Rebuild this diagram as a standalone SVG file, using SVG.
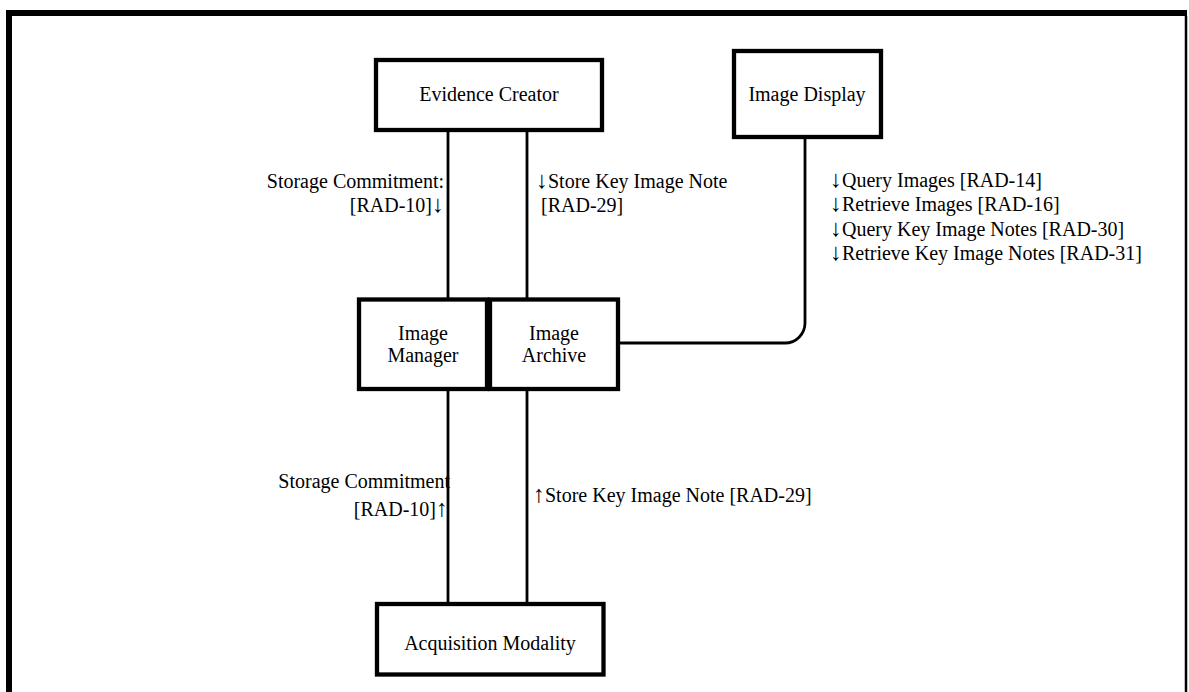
<svg xmlns="http://www.w3.org/2000/svg" width="1189" height="692" viewBox="0 0 1189 692">
<style>
.box{fill:#fff;stroke:#000;stroke-width:4.3}
.c{text-anchor:middle}
.r{text-anchor:end}
.ln{fill:none;stroke:#000;stroke-width:2.8}
.a{font-size:24px}
</style>
<rect width="1189" height="692" fill="#fff"/>
<g id="frame">
<path d="M9 692 V13 H1187" fill="none" stroke="#000" stroke-width="6"/>
<path d="M1186 16 V692" fill="none" stroke="#000" stroke-width="2.5"/>
</g>
<g id="connectors">
<path class="ln" d="M448 132 V298"/>
<path class="ln" d="M527 132 V298"/>
<path class="ln" d="M448 390 V603"/>
<path class="ln" d="M527 390 V603"/>
<path class="ln" d="M805 138 V323 A20 20 0 0 1 785 343 H619"/>
</g>
<g font-family="'Liberation Serif', 'Times New Roman', serif" font-size="20" fill="#000">
<g id="labels">
<text class="r" x="444" y="188">Storage Commitment:</text>
<text class="r" x="444" y="212">[RAD-10]<tspan class="a">↓</tspan></text>
<text x="536" y="188"><tspan class="a">↓</tspan>Store Key Image Note</text>
<text x="541" y="212">[RAD-29]</text>
<text x="830" y="187"><tspan class="a">↓</tspan>Query Images [RAD-14]</text>
<text x="830" y="211"><tspan class="a">↓</tspan>Retrieve Images [RAD-16]</text>
<text x="830" y="236"><tspan class="a">↓</tspan>Query Key Image Notes [RAD-30]</text>
<text x="830" y="260"><tspan class="a">↓</tspan>Retrieve Key Image Notes [RAD-31]</text>
<text class="r" x="450" y="488">Storage Commitment</text>
<text class="r" x="448" y="516">[RAD-10]<tspan class="a">↑</tspan></text>
<text x="533" y="502"><tspan class="a">↑</tspan>Store Key Image Note [RAD-29]</text>
</g>
<g id="evidence-creator">
<rect class="box" x="376" y="60" width="226" height="70"/>
<text class="c" x="489" y="101">Evidence Creator</text>
</g>
<g id="image-display">
<rect class="box" x="734" y="51" width="147" height="86"/>
<text class="c" x="807" y="101">Image Display</text>
</g>
<g id="image-manager">
<rect class="box" x="359" y="299.5" width="128" height="89.5"/>
<text class="c" x="423" y="340">Image</text>
<text class="c" x="423" y="362">Manager</text>
</g>
<g id="image-archive">
<rect class="box" x="490" y="299.5" width="128" height="89.5"/>
<text class="c" x="554" y="340">Image</text>
<text class="c" x="554" y="362">Archive</text>
</g>
<g id="acquisition-modality">
<rect class="box" x="377" y="604" width="226.5" height="70.5"/>
<text class="c" x="490" y="650">Acquisition Modality</text>
</g>
</g>
</svg>
